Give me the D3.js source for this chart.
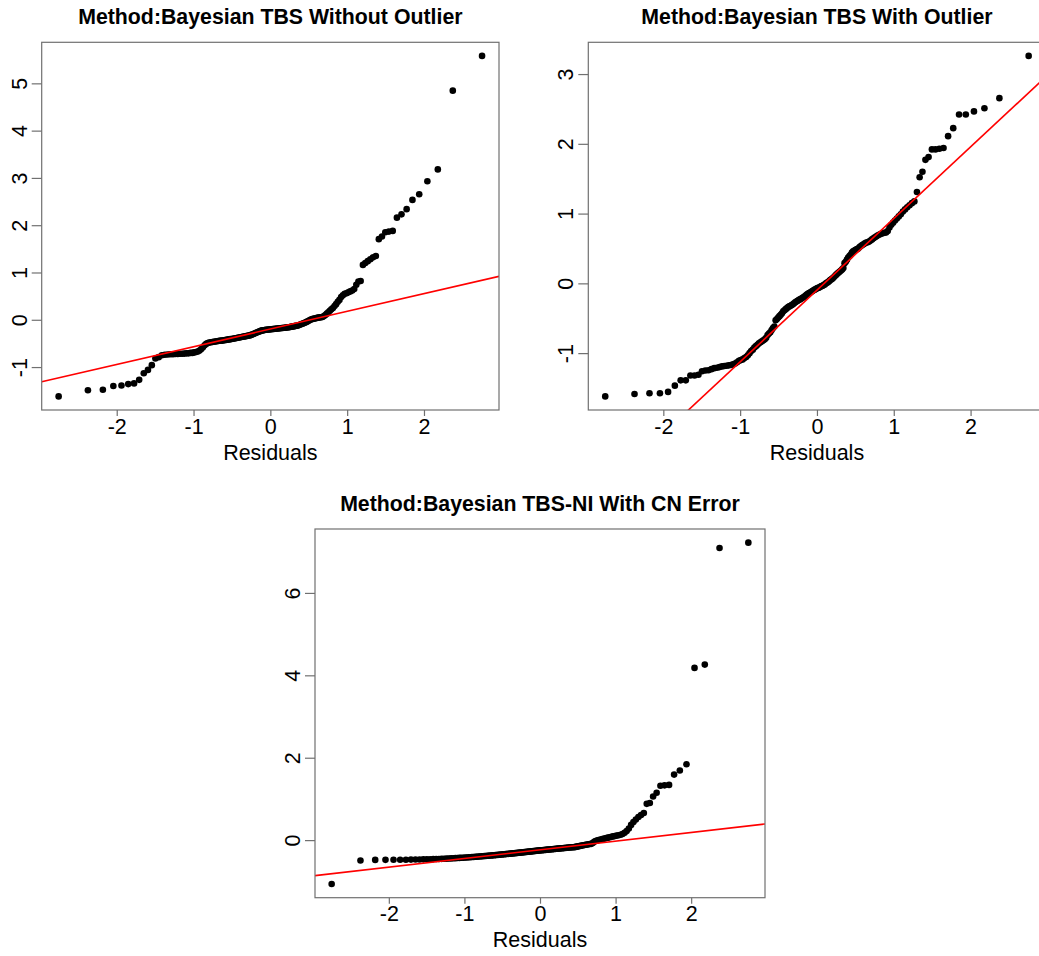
<!DOCTYPE html>
<html>
<head>
<meta charset="utf-8">
<script src="https://cdn.jsdelivr.net/npm/d3@7"></script>
<style>
  html, body { margin: 0; padding: 0; background: #ffffff; }
  svg { display: block; font-family: "Liberation Sans", Arial, Helvetica, sans-serif; }
</style>
</head>
<body>
<svg id="chart" width="1039" height="956"></svg>
<script>
// ---------------- data ----------------
const titles = [
  "Method:Bayesian TBS Without Outlier",
  "Method:Bayesian TBS With Outlier",
  "Method:Bayesian TBS-NI With CN Error"
];
const xLabel = "Residuals";
const xTicks = [-2, -1, 0, 1, 2];
const yTicks1 = [-1, 0, 1, 2, 3, 4, 5];
const yTicks2 = [-1, 0, 1, 2, 3];
const yTicks3 = [0, 2, 4, 6];

// sorted sample quantiles (171 residuals per panel)
const resid1 = [
  -1.62, -1.49, -1.48, -1.40, -1.39, -1.36, -1.345, -1.27, -1.13, -1.06, -0.96, -0.82, -0.79, -0.75, -0.74,
  -0.735, -0.73, -0.73, -0.725, -0.725, -0.72, -0.72, -0.715, -0.71, -0.71, -0.70, -0.70, -0.69, -0.68, -0.67,
  -0.65, -0.62, -0.58, -0.54, -0.51, -0.49, -0.48, -0.475, -0.47, -0.465, -0.46, -0.455, -0.45, -0.445, -0.44, -0.44, -0.435, -0.43, -0.425, -0.42,
  -0.415, -0.41, -0.405, -0.40, -0.395, -0.39, -0.385, -0.38, -0.375, -0.37, -0.365, -0.36, -0.355, -0.35, -0.345, -0.34, -0.335, -0.33, -0.32, -0.31,
  -0.30, -0.29, -0.28, -0.27, -0.26, -0.25, -0.24, -0.23, -0.225, -0.22, -0.215, -0.21, -0.21, -0.205, -0.205, -0.20, -0.20, -0.195, -0.195, -0.19,
  -0.19, -0.185, -0.185, -0.18, -0.18, -0.175, -0.175, -0.17, -0.17, -0.165, -0.16, -0.16, -0.155, -0.15, -0.145, -0.14, -0.135, -0.13, -0.125, -0.12,
  -0.11, -0.10, -0.09, -0.08, -0.07, -0.06, -0.045, -0.03, -0.015, 0.0, 0.01, 0.02, 0.025, 0.03, 0.04, 0.045, 0.05, 0.055, 0.06, 0.08,
  0.10, 0.13, 0.16, 0.19, 0.22, 0.25, 0.29, 0.33, 0.38, 0.42, 0.48, 0.52, 0.55, 0.56, 0.58, 0.60, 0.62, 0.65, 0.74, 0.81,
  0.82, 1.16, 1.20, 1.24, 1.28, 1.32, 1.35, 1.705, 1.76, 1.85, 1.865, 1.88, 2.16, 2.23, 2.34, 2.535, 2.655, 2.93, 3.18, 4.845, 5.58
];
const resid2 = [
  -1.62, -1.585, -1.575, -1.575, -1.556, -1.466, -1.39, -1.39, -1.32, -1.32, -1.31, -1.26, -1.25, -1.246, -1.23,
  -1.215, -1.21, -1.20, -1.19, -1.185, -1.18, -1.175, -1.17, -1.16, -1.15, -1.13, -1.11, -1.10, -1.09, -1.07,
  -1.055, -1.03, -1.00, -0.97, -0.95, -0.92, -0.90, -0.88, -0.86, -0.845, -0.83, -0.815, -0.80, -0.78, -0.74, -0.72, -0.70, -0.67, -0.64, -0.62,
  -0.53, -0.51, -0.49, -0.47, -0.45, -0.43, -0.40, -0.385, -0.37, -0.355, -0.34, -0.33, -0.32, -0.31, -0.30, -0.285, -0.27, -0.26, -0.25, -0.24,
  -0.23, -0.22, -0.21, -0.20, -0.19, -0.175, -0.16, -0.15, -0.14, -0.13, -0.12, -0.11, -0.10, -0.09, -0.08, -0.07, -0.065, -0.06, -0.05, -0.04,
  -0.035, -0.025, -0.015, 0.0, 0.01, 0.02, 0.035, 0.05, 0.06, 0.075, 0.09, 0.11, 0.125, 0.14, 0.155, 0.17, 0.185, 0.20, 0.22, 0.29,
  0.31, 0.34, 0.37, 0.39, 0.41, 0.44, 0.46, 0.47, 0.48, 0.49, 0.50, 0.52, 0.535, 0.55, 0.56, 0.575, 0.585, 0.59, 0.60, 0.615,
  0.63, 0.645, 0.66, 0.675, 0.69, 0.70, 0.71, 0.72, 0.725, 0.73, 0.75, 0.80, 0.84, 0.87, 0.90, 0.93, 0.96, 0.99, 1.03, 1.06,
  1.09, 1.12, 1.15, 1.175, 1.31, 1.52, 1.60, 1.77, 1.81, 1.92, 1.92, 1.93, 1.94, 2.11, 2.225, 2.42, 2.42, 2.465, 2.51, 2.655, 3.26
];
const resid3 = [
  -1.066, -0.494, -0.48, -0.479, -0.478, -0.477, -0.475, -0.473, -0.471, -0.469, -0.467, -0.465, -0.463, -0.461, -0.459, -0.457, -0.455,
  -0.453, -0.45, -0.447, -0.444, -0.441, -0.438, -0.435, -0.432, -0.429, -0.426, -0.423, -0.42, -0.417, -0.414, -0.411, -0.408, -0.405, -0.402, -0.399, -0.396, -0.393, -0.39, -0.387, -0.384, -0.381,
  -0.378, -0.375, -0.372, -0.369, -0.366, -0.363, -0.36, -0.357, -0.354, -0.351, -0.348, -0.345, -0.342, -0.339, -0.336, -0.333, -0.33, -0.328, -0.325, -0.322,
  -0.319, -0.316, -0.313, -0.31, -0.307, -0.304, -0.301, -0.298, -0.295, -0.292, -0.289, -0.286, -0.283, -0.28, -0.277, -0.274, -0.271, -0.268, -0.265, -0.262, -0.259, -0.256, -0.253, -0.25,
  -0.247, -0.245, -0.242, -0.239, -0.237, -0.234, -0.231, -0.228, -0.226, -0.223, -0.22, -0.218, -0.215, -0.212, -0.209, -0.207, -0.204, -0.201, -0.199, -0.196, -0.193, -0.19, -0.188, -0.185, -0.182, -0.18, -0.177, -0.174, -0.172, -0.17,
  -0.164, -0.158, -0.151, -0.145, -0.139, -0.133, -0.126, -0.12, -0.114, -0.108, -0.101, -0.095, -0.09,
  -0.07, -0.04, -0.02, -0.01, 0.0, 0.01, 0.02, 0.03, 0.04, 0.05, 0.06, 0.07, 0.08, 0.09, 0.10, 0.11, 0.12, 0.13, 0.15, 0.18, 0.22,
  0.28, 0.37, 0.44, 0.50, 0.56, 0.61, 0.66, 0.88, 0.90, 1.06, 1.15, 1.32, 1.33, 1.34, 1.59, 1.69, 1.84, 4.18, 4.26, 7.09, 7.22
];

// ---------------- layout ----------------
const layout = [
  { left: 41.7,  top: 42.3, width: 457.3, height: 367.7 },
  { left: 588.3, top: 42.3, width: 457.3, height: 367.7 },
  { left: 315,   top: 529,  width: 450,   height: 368.7 }
];
const panelData = [
  { title: titles[0], values: resid1, yTicks: yTicks1 },
  { title: titles[1], values: resid2, yTicks: yTicks2 },
  { title: titles[2], values: resid3, yTicks: yTicks3 }
];

// inverse standard normal CDF (as used by qqnorm)
function qnorm(p) {
  const a = [-3.969683028665376e+01, 2.209460984245205e+02, -2.759285104469687e+02, 1.383577518672690e+02, -3.066479806614716e+01, 2.506628277459239e+00];
  const b = [-5.447609879822406e+01, 1.615858368580409e+02, -1.556989798598866e+02, 6.680131188771972e+01, -1.328068155288572e+01];
  const c = [-7.784894002430293e-03, -3.223964580411365e-01, -2.400758277161838e+00, -2.549732539343734e+00, 4.374664141464968e+00, 2.938163982698783e+00];
  const d = [7.784695709041462e-03, 3.224671290700398e-01, 2.445134137142996e+00, 3.754408661907416e+00];
  const pl = 0.02425, ph = 1 - pl;
  let q, r;
  if (p < pl) {
    q = Math.sqrt(-2 * Math.log(p));
    return (((((c[0]*q+c[1])*q+c[2])*q+c[3])*q+c[4])*q+c[5]) / ((((d[0]*q+d[1])*q+d[2])*q+d[3])*q+1);
  } else if (p <= ph) {
    q = p - 0.5; r = q * q;
    return (((((a[0]*r+a[1])*r+a[2])*r+a[3])*r+a[4])*r+a[5])*q / (((((b[0]*r+b[1])*r+b[2])*r+b[3])*r+b[4])*r+1);
  } else {
    q = Math.sqrt(-2 * Math.log(1 - p));
    return -(((((c[0]*q+c[1])*q+c[2])*q+c[3])*q+c[4])*q+c[5]) / ((((d[0]*q+d[1])*q+d[2])*q+d[3])*q+1);
  }
}

function extendRange(ext) {
  const r = ext[1] - ext[0];
  return [ext[0] - 0.04 * r, ext[1] + 0.04 * r];
}

const svg = d3.select("#chart");
svg.append("rect").attr("width", 1039).attr("height", 956).attr("fill", "#ffffff");

const axisColor = "#707070";
const fontFamily = '"Liberation Sans", Arial, Helvetica, sans-serif';
const labelSize = 21.5;
const titleSize = 21.3;

panelData.forEach((pd, k) => {
  const L = layout[k];
  const ys = d3.sort(pd.values);
  const n = ys.length;
  const pts = ys.map((y, i) => ({ x: qnorm((i + 1 - 0.5) / n), y }));

  const x = d3.scaleLinear().domain(extendRange(d3.extent(pts, d => d.x))).range([L.left, L.left + L.width]);
  const y = d3.scaleLinear().domain(extendRange(d3.extent(pts, d => d.y))).range([L.top + L.height, L.top]);

  const g = svg.append("g");

  // clip region = plot box
  const clipId = "clip" + k;
  svg.append("clipPath").attr("id", clipId)
    .append("rect").attr("x", L.left).attr("y", L.top).attr("width", L.width).attr("height", L.height);

  // points
  g.append("g").selectAll("circle").data(pts).join("circle")
    .attr("cx", d => x(d.x)).attr("cy", d => y(d.y)).attr("r", 3.3).attr("fill", "#000000");

  // qqline through the quartiles
  const q1 = d3.quantile(ys, 0.25), q3 = d3.quantile(ys, 0.75);
  const x1 = qnorm(0.25), x3 = qnorm(0.75);
  const slope = (q3 - q1) / (x3 - x1);
  const intercept = q1 - slope * x1;
  const [dx0, dx1] = x.domain();
  g.append("line")
    .attr("clip-path", `url(#${clipId})`)
    .attr("x1", x(dx0)).attr("y1", y(intercept + slope * dx0))
    .attr("x2", x(dx1)).attr("y2", y(intercept + slope * dx1))
    .attr("stroke", "#ff0000").attr("stroke-width", 1.6);

  // box
  g.append("rect").attr("x", L.left).attr("y", L.top).attr("width", L.width).attr("height", L.height)
    .attr("fill", "none").attr("stroke", axisColor).attr("stroke-width", 1.2);

  // x axis
  const xa = g.append("g").attr("transform", `translate(0,${L.top + L.height})`)
    .call(d3.axisBottom(x).tickValues(xTicks).tickSize(6).tickSizeOuter(0).tickFormat(d3.format("d")));
  xa.select(".domain").remove();
  xa.selectAll(".tick line").attr("stroke", axisColor).attr("stroke-width", 1.2);
  xa.selectAll(".tick text").attr("y", 23.5).attr("dy", 0)
    .attr("font-family", fontFamily).attr("font-size", labelSize).attr("fill", "#000000")
    .text(d => d < 0 ? "-" + Math.abs(d) : String(d));

  // y axis
  const ya = g.append("g").attr("transform", `translate(${L.left},0)`)
    .call(d3.axisLeft(y).tickValues(pd.yTicks).tickSize(10).tickSizeOuter(0));
  ya.select(".domain").remove();
  ya.selectAll(".tick line").attr("stroke", axisColor).attr("stroke-width", 1.2);
  ya.selectAll(".tick text")
    .attr("transform", "rotate(-90)")
    .attr("x", 0).attr("y", -15.2).attr("dy", 0)
    .attr("text-anchor", "middle")
    .attr("font-family", fontFamily).attr("font-size", labelSize).attr("fill", "#000000")
    .text(d => d < 0 ? "-" + Math.abs(d) : String(d));

  // title
  g.append("text")
    .attr("x", L.left + L.width / 2).attr("y", L.top - 18.3)
    .attr("text-anchor", "middle")
    .attr("font-family", fontFamily).attr("font-weight", "bold").attr("font-size", titleSize)
    .attr("fill", "#000000")
    .text(pd.title);

  // x label
  g.append("text")
    .attr("x", L.left + L.width / 2).attr("y", L.top + L.height + 49.5)
    .attr("text-anchor", "middle")
    .attr("font-family", fontFamily).attr("font-size", labelSize)
    .attr("fill", "#000000")
    .text(xLabel);
});
</script>
</body>
</html>
